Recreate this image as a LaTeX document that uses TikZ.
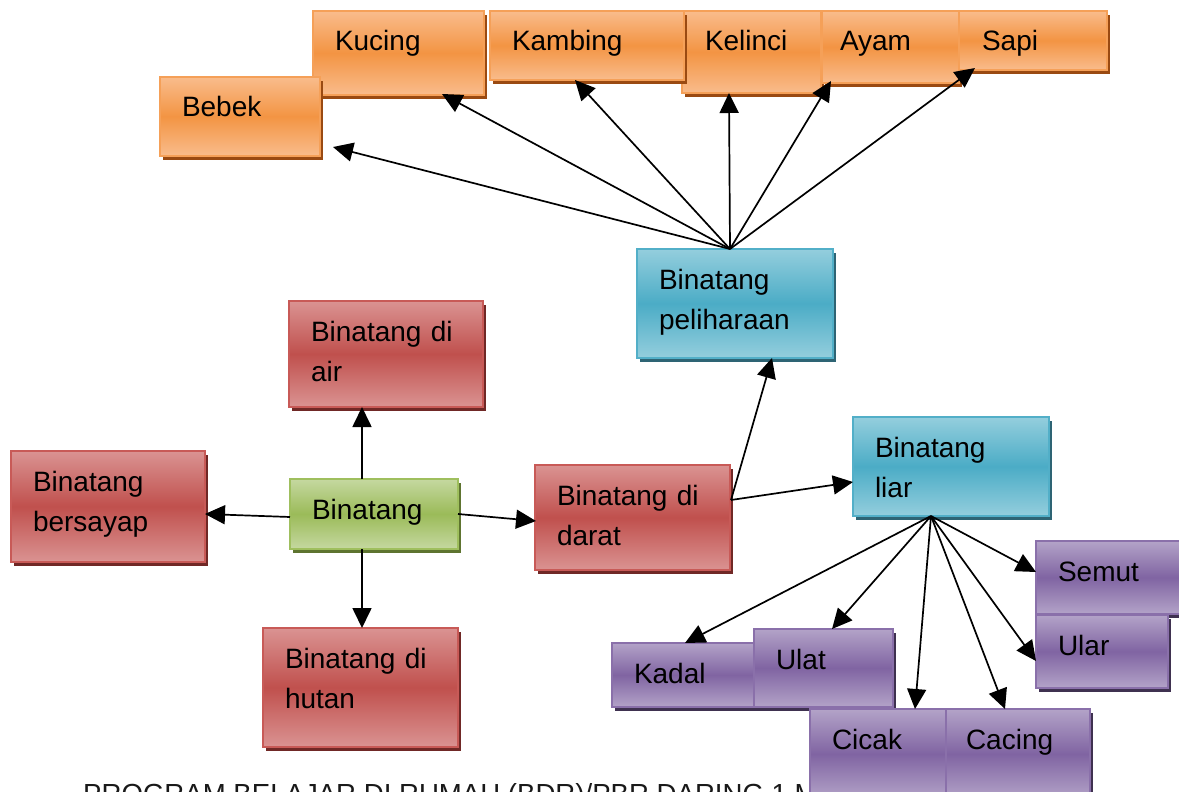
\documentclass[tikz,border=0pt]{standalone}
\usepackage{fontspec}
\setmainfont{Liberation Sans}
\usetikzlibrary{arrows.meta,calc}
% colour sets: L light, M middle, B border, S shadow
\definecolor{oL}{HTML}{F9BC8C}\definecolor{oM}{HTML}{F39443}\definecolor{oB}{HTML}{F5A058}\definecolor{oS}{HTML}{9A4A12}
\definecolor{rL}{HTML}{DA9392}\definecolor{rM}{HTML}{C0504D}\definecolor{rB}{HTML}{C85A57}\definecolor{rS}{HTML}{702826}
\definecolor{gL}{HTML}{C5D8A0}\definecolor{gM}{HTML}{9BBB59}\definecolor{gB}{HTML}{9FBF5E}\definecolor{gS}{HTML}{5E7430}
\definecolor{bL}{HTML}{94CEDD}\definecolor{bM}{HTML}{4BACC6}\definecolor{bB}{HTML}{52AFC8}\definecolor{bS}{HTML}{2E6474}
\definecolor{pL}{HTML}{B3A3C8}\definecolor{pM}{HTML}{8064A2}\definecolor{pB}{HTML}{8A70AA}\definecolor{pS}{HTML}{3F3150}
\tikzset{
  box/.style={line width=1.6pt, inner sep=0pt, outer sep=0pt},
  lbl/.style={text width=230pt, align=left, inner sep=0pt, outer sep=0pt,
    font=\fontsize{28pt}{40.5pt}\selectfont},
  arr/.style={-{Triangle[length=20pt,width=19pt]}, line width=1.7pt},
}
\newcommand{\mybox}[8][22]{%
  \fill[#7S] (#3+3,#4+4) rectangle (#3+#5+3,#4+#6+4);
  \node[box, top color=#7L, bottom color=#7L, middle color=#7M, draw=#7B,
    minimum width=#5pt, minimum height=#6pt, anchor=north west] (#2) at (#3,#4) {};
  \node[lbl, anchor=base west] (#2-t) at (#3+#1,#4+40) {#8};
}
\begin{document}
\begin{tikzpicture}[x=1pt,y=-1pt]
\useasboundingbox (0,0) rectangle (1179,792);
\clip (0,0) rectangle (1179,792);
\fill[white] (0,0) rectangle (1179,792);
% top row
\mybox{kucing}{313}{11}{171}{84}{o}{Kucing}
\mybox{bebek}{160}{77}{160}{79}{o}{Bebek}
\mybox[23]{kelinci}{682}{11}{139}{82}{o}{Kelinci}
\mybox{kambing}{490}{11}{194}{69}{o}{Kambing}
\mybox[18]{ayam}{822}{11}{137}{72}{o}{Ayam}
\mybox[23]{sapi}{959}{11}{148}{59}{o}{Sapi}
% middle
\mybox{pel}{637}{249}{196}{109}{b}{Binatang\\peliharaan}
\mybox{air}{289}{301}{194}{106}{r}{Binatang di\\air}
\mybox{bersayap}{11}{451}{194}{111}{r}{Binatang\\bersayap}
\mybox{bin}{290}{479}{168}{70}{g}{Binatang}
\mybox{darat}{535}{465}{195}{105}{r}{Binatang di\\darat}
\mybox{hutan}{263}{628}{195}{119}{r}{Binatang di\\hutan}
\mybox{liar}{853}{417}{196}{99}{b}{Binatang\\liar}
% footer text (partly hidden, as in the reference)
\node[anchor=base west, inner sep=0pt, font=\fontsize{27.6pt}{30pt}\selectfont, text=black!90] (footer) at (83,803) {PROGRAM BELAJAR DI RUMAH (BDR)/PBR DARING 1 M};
% purple
\mybox{semut}{1036}{541}{150}{73}{p}{Semut}
\mybox{ular}{1036}{615}{132}{73}{p}{Ular}
\mybox{kadal}{612}{643}{143}{64}{p}{Kadal}
\mybox{ulat}{754}{629}{139}{78}{p}{Ulat}
\mybox{cicak}{810}{709}{136}{90}{p}{Cicak}
\mybox[20]{cacing}{946}{709}{144}{90}{p}{Cacing}
% connectors from Binatang peliharaan
\coordinate (pstart) at ($(pel.north west)+(93,0)$);
\draw[arr] (pstart) -- ($(bebek.north west)+(173,70)$);
\draw[arr] (pstart) -- ($(kucing.north west)+(129,83)$);
\draw[arr] (pstart) -- ($(kambing.north west)+(85,69)$);
\draw[arr] (pstart) -- ($(kelinci.north west)+(47,82)$);
\draw[arr] (pstart) -- ($(ayam.north west)+(9,70)$);
\draw[arr] (pstart) -- ($(sapi.north west)+(16,57)$);
% from Binatang
\draw[arr] ($(bin.north west)+(72,0)$) -- ($(air.south west)+(73,0)$);
\draw[arr] ($(bin.north west)+(0,38)$) -- ($(bersayap.north east)+(0,63)$);
\draw[arr] ($(bin.south west)+(72,0)$) -- ($(hutan.north west)+(99,0)$);
\draw[arr] ($(bin.north east)+(0,35)$) -- ($(darat.north west)+(1,56)$);
% from Binatang di darat
\coordinate (dstart) at ($(darat.north east)+(1,35)$);
\draw[arr] (dstart) -- ($(pel.south west)+(135,0)$);
\draw[arr] (dstart) -- ($(liar.north west)+(0,65)$);
% from Binatang liar
\coordinate (lstart) at ($(liar.south west)+(78,0)$);
\draw[arr] (lstart) -- ($(kadal.north west)+(73,0)$);
\draw[arr] (lstart) -- ($(ulat.north west)+(78,0)$);
\draw[arr] (lstart) -- ($(cicak.north west)+(105,0)$);
\draw[arr] (lstart) -- ($(cacing.north west)+(59,0)$);
\draw[arr] (lstart) -- ($(ular.north west)+(0,46)$);
\draw[arr] (lstart) -- ($(semut.north west)+(0,31)$);
\end{tikzpicture}
\end{document}
